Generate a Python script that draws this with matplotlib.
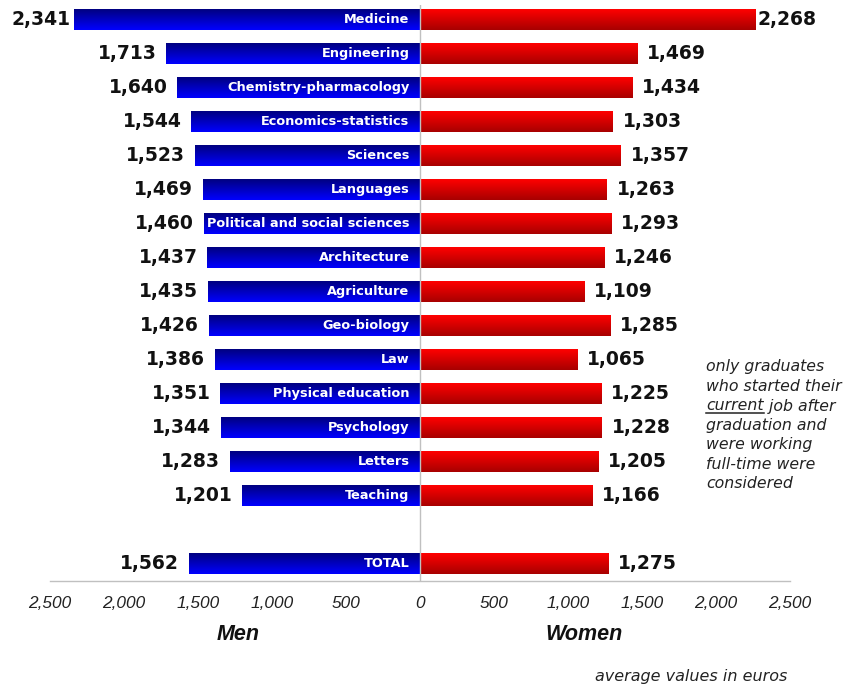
import matplotlib
matplotlib.use("Agg")
import matplotlib.pyplot as plt
import numpy as np
from matplotlib.lines import Line2D
from matplotlib.colors import LinearSegmentedColormap

categories = ["Medicine", "Engineering", "Chemistry-pharmacology", "Economics-statistics",
              "Sciences", "Languages", "Political and social sciences", "Architecture",
              "Agriculture", "Geo-biology", "Law", "Physical education", "Psychology",
              "Letters", "Teaching"]
men = [2341, 1713, 1640, 1544, 1523, 1469, 1460, 1437, 1435, 1426, 1386, 1351, 1344, 1283, 1201]
women = [2268, 1469, 1434, 1303, 1357, 1263, 1293, 1246, 1109, 1285, 1065, 1225, 1228, 1205, 1166]
total_label = "TOTAL"
total_men = 1562
total_women = 1275
tick_values = [-2500, -2000, -1500, -1000, -500, 0, 500, 1000, 1500, 2000, 2500]

all_labels = categories + [total_label]
all_men = men + [total_men]
all_women = women + [total_women]
positions = list(range(len(categories))) + [len(categories) + 1]

fig = plt.figure(figsize=(8.44, 6.87), dpi=100)
ax = fig.add_axes([50/844, 106/687, 740/844, 576/687])

h = 0.6
grad = np.linspace(0, 1, 64).reshape(-1, 1)
cm_blue = LinearSegmentedColormap.from_list("b", ["#000080", "#0000ff"])
cm_red = LinearSegmentedColormap.from_list("r", ["#ff0000", "#a80000"])

for y, lab, m, w in zip(positions, all_labels, all_men, all_women):
    ax.imshow(grad, cmap=cm_blue, aspect="auto", extent=(-m, 0, y + h/2, y - h/2),
              interpolation="bilinear", zorder=2)
    ax.imshow(grad, cmap=cm_red, aspect="auto", extent=(0, w, y + h/2, y - h/2),
              interpolation="bilinear", zorder=2)
    ax.annotate(lab, (0, y), xytext=(-7.5, 0), textcoords="offset points",
                ha="right", va="center", color="white", fontsize=9.3,
                fontweight="bold", family="DejaVu Sans", zorder=4)
    off_m = 2.5 if m > 2200 else 7
    off_w = 1.5 if w > 2200 else 7
    ax.annotate(f"{m:,}", (-m, y), xytext=(-off_m, 0), textcoords="offset points",
                ha="right", va="center", color="#111111", fontsize=13.5,
                fontweight="bold", family="DejaVu Sans")
    ax.annotate(f"{w:,}", (w, y), xytext=(off_w, 0), textcoords="offset points",
                ha="left", va="center", color="#111111", fontsize=13.5,
                fontweight="bold", family="DejaVu Sans")

ax.set_xlim(-2500, 2500)
ax.set_ylim(16.5, -0.44)
ax.axvline(0, color="#c0c0c0", lw=1, zorder=3)
for s in ["top", "right", "left"]:
    ax.spines[s].set_visible(False)
ax.spines["bottom"].set_color("#c0c0c0")
ax.spines["bottom"].set_linewidth(1)
ax.set_yticks([])
ax.set_xticks(tick_values)
ax.set_xticklabels([f"{abs(v):,}" for v in tick_values], fontsize=12.4,
                   fontstyle="italic", family="Liberation Sans", color="#222222")
ax.tick_params(axis="x", length=0, pad=11)

fig.text(238/844, 1 - 634/687, "Men", ha="center", va="center", fontsize=15.5,
         fontweight="bold", fontstyle="italic", family="Liberation Sans", color="#111111")
fig.text(584/844, 1 - 634/687, "Women", ha="center", va="center", fontsize=15.5,
         fontweight="bold", fontstyle="italic", family="Liberation Sans", color="#111111")
fig.text(787/844, 1 - 677/687, "average values in euros", ha="right", va="center",
         fontsize=11.5, fontstyle="italic", family="DejaVu Sans", color="#222222")

note_lines = ["only graduates", "who started their", None, "graduation and",
              "were working", "full-time were", "considered"]
x0 = 706/844
y_start = 367
dy = 19.5
fs_note = 11.3
fig.canvas.draw()
renderer = fig.canvas.get_renderer()
for i, line in enumerate(note_lines):
    yy = 1 - (y_start + i*dy)/687
    if line is None:
        t = fig.text(x0, yy, "current", ha="left", va="center", fontsize=fs_note,
                     fontstyle="italic", family="DejaVu Sans", color="#222222")
        bb = t.get_window_extent(renderer)
        fig.text(bb.x1/844, yy, " job after", ha="left", va="center", fontsize=fs_note,
                 fontstyle="italic", family="DejaVu Sans", color="#222222")
        uy = (bb.y0 + 1)/687
        fig.add_artist(Line2D([bb.x0/844, bb.x1/844], [uy, uy], color="#222222",
                              lw=1.1, transform=fig.transFigure))
    else:
        fig.text(x0, yy, line, ha="left", va="center", fontsize=fs_note,
                 fontstyle="italic", family="DejaVu Sans", color="#222222")

fig.savefig("out.png", dpi=100)
